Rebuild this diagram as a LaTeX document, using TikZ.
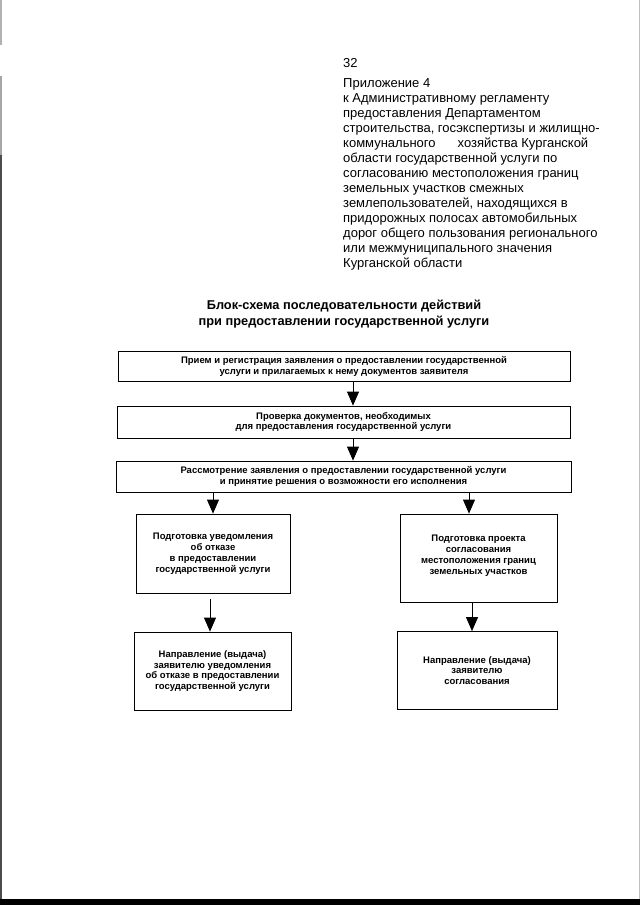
\documentclass[tikz,border=0pt]{standalone}
\usepackage{fontspec}
\setmainfont{Liberation Sans}
\usetikzlibrary{arrows.meta}
\tikzset{
  stepbox/.style={draw=black, line width=0.8pt, inner sep=1pt, align=center,
    font=\fontsize{9.5}{10.9}\selectfont\bfseries},
  arr/.style={draw=black, line width=0.8pt, -{Triangle[width=12pt,length=14pt]}},
  hdr/.style={anchor=base west, inner sep=0pt, font=\fontsize{13}{15}\selectfont},
}
\begin{document}
\begin{tikzpicture}[x=1pt, y=-1pt]
\useasboundingbox (0,0) rectangle (640,905);
\fill[white] (0,0) rectangle (640,905);
% scan edges
\fill[black] (0,899) rectangle (640,905);
\draw[gray!60, line width=1.5pt] (1,0) -- (1,45);
\draw[gray!70, line width=1.5pt] (1,76) -- (1,155);
\draw[black!70, line width=2pt] (1,155) -- (1,899);
\draw[gray!50, line width=1pt] (639,0) -- (639,899);

% header
\node[hdr] (pg) at (343,67) {32};
\node[hdr, anchor=north west, align=left] (app) at (343,78) {%
Приложение 4\\
к Административному регламенту\\
предоставления Департаментом\\
строительства, госэкспертизы и жилищно-\\
коммунального\hspace{22pt}хозяйства Курганской\\
области государственной услуги по\\
согласованию местоположения границ\\
земельных участков смежных\\
землепользователей, находящихся в\\
придорожных полосах автомобильных\\
дорог общего пользования регионального\\
или межмуниципального значения\\
Курганской области};

% title
\node[inner sep=0pt, align=center, anchor=north, font=\fontsize{12.8}{15.5}\selectfont\bfseries] (title) at (344,300) {%
Блок-схема последовательности действий\\
при предоставлении государственной услуги};

% boxes
\node[stepbox, minimum width=452pt, minimum height=30pt] (b1) at (344,366)
  {Прием и регистрация заявления о предоставлении государственной\\
   услуги и прилагаемых к нему документов заявителя};
\node[stepbox, minimum width=453pt, minimum height=32pt] (b2) at (343.5,422)
  {Проверка документов, необходимых\\
   для предоставления государственной услуги};
\node[stepbox, minimum width=455pt, minimum height=31pt] (b3) at (343.5,476.5)
  {Рассмотрение заявления о предоставлении государственной услуги\\
   и принятие решения о возможности его исполнения};
\node[stepbox, minimum width=154pt, minimum height=79pt] (b4) at (213,553.5)
  {Подготовка уведомления\\ об отказе\\ в предоставлении\\ государственной услуги};
\node[stepbox, minimum width=157pt, minimum height=88pt] (b5) at (478.5,558)
  {Подготовка проекта\\ согласования\\ местоположения границ\\ земельных участков\\[-5pt]};
\node[stepbox, minimum width=157pt, minimum height=78pt] (b6) at (212.5,671)
  {Направление (выдача)\\ заявителю уведомления\\ об отказе в предоставлении\\ государственной услуги};
\node[stepbox, minimum width=160pt, minimum height=78pt] (b7) at (477,670.5)
  {Направление (выдача)\\ заявителю\\ согласования};

% connector columns
\coordinate (cA) at (353,0);
\coordinate (cL) at (213,0);
\coordinate (cR) at (469,0);
\coordinate (cL2) at (210,0);
\coordinate (cR2) at (472,0);

\draw[arr] (b1.south -| cA) -- (b2.north -| cA);
\draw[arr] (b2.south -| cA) -- (b3.north -| cA);
\draw[arr] (b3.south -| cL) -- (b4.north -| cL);
\draw[arr] (b3.south -| cR) -- (b5.north -| cR);
\draw[arr, shorten <=6pt] (b4.south -| cL2) -- (b6.north -| cL2);
\draw[arr] (b5.south -| cR2) -- (b7.north -| cR2);
\end{tikzpicture}
\end{document}
